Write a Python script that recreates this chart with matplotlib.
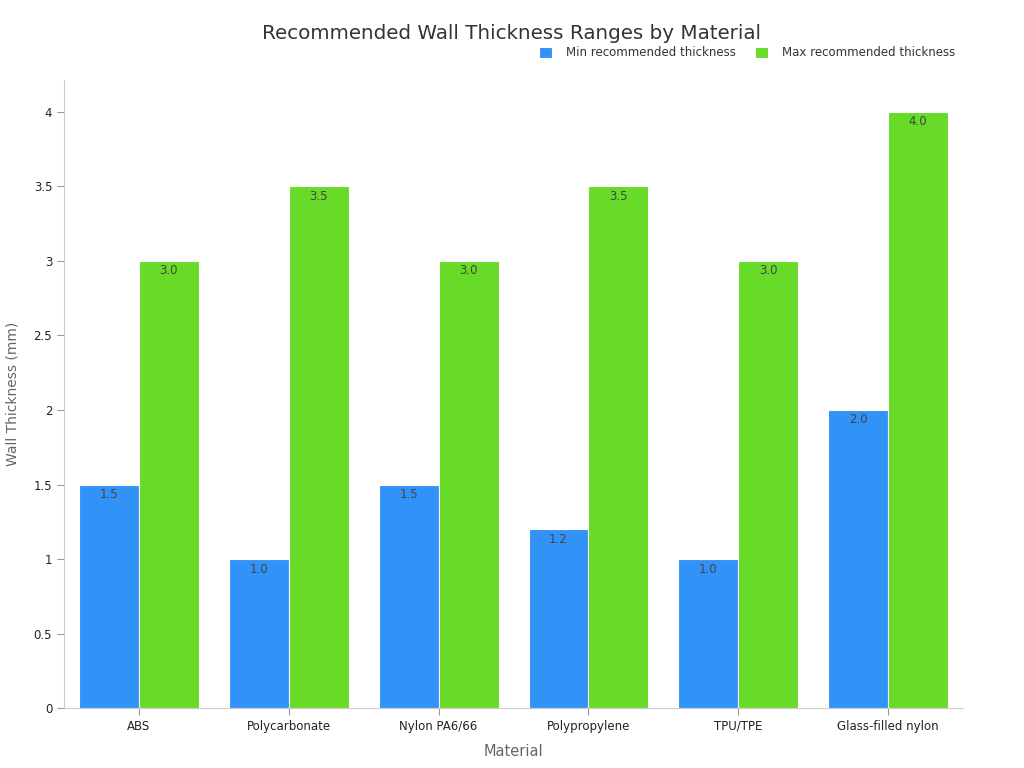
import matplotlib.pyplot as plt
import numpy as np

plt.rcParams['font.family'] = ['DejaVu Sans']

materials = ["ABS", "Polycarbonate", "Nylon PA6/66", "Polypropylene", "TPU/TPE", "Glass-filled nylon"]
min_thick = [1.5, 1.0, 1.5, 1.2, 1.0, 2.0]
max_thick = [3.0, 3.5, 3.0, 3.5, 3.0, 4.0]
yticks = [0, 0.5, 1, 1.5, 2, 2.5, 3, 3.5, 4]
ytick_labels = ["0", "0.5", "1", "1.5", "2", "2.5", "3", "3.5", "4"]

blue = "#3192F8"
green = "#67DB28"

fig = plt.figure(figsize=(10.24, 7.68), dpi=100)
ax = fig.add_axes([0.0625, 0.078, 0.878, 0.818])

x = np.arange(len(materials))
w = 0.4
b1 = ax.bar(x - w / 2, min_thick, w, color=blue, edgecolor="white", linewidth=0.8,
            label="Min recommended thickness")
b2 = ax.bar(x + w / 2, max_thick, w, color=green, edgecolor="white", linewidth=0.8,
            label="Max recommended thickness")

for bars, vals in ((b1, min_thick), (b2, max_thick)):
    for r, v in zip(bars, vals):
        ax.annotate(f"{v:.1f}", (r.get_x() + r.get_width() / 2, v),
                    xytext=(0, -2.5), textcoords="offset points",
                    ha="center", va="top", fontsize=8.5, color="#444444")

ax.set_xlim(-0.5, 5.5)
ax.set_ylim(0, 4.215)
ax.set_xticks(x)
ax.set_xticklabels(materials, fontsize=8.5, color="#222222")
ax.set_yticks(yticks)
ax.set_yticklabels(ytick_labels, fontsize=8.5, color="#222222")
ax.tick_params(color="#999999", length=5)

for s in ("top", "right"):
    ax.spines[s].set_visible(False)
for s in ("left", "bottom"):
    ax.spines[s].set_color("#cccccc")

ax.set_xlabel("Material", fontsize=10.5, color="#666666", labelpad=8)
ax.set_ylabel("Wall Thickness (mm)", fontsize=10, color="#666666", labelpad=10)

fig.text(0.5, 0.957, "Recommended Wall Thickness Ranges by Material",
         ha="center", va="center", fontsize=14.3, color="#333333")
leg = fig.legend(handles=[b1, b2], loc="center right", bbox_to_anchor=(0.943, 0.931),
                 ncol=2, frameon=False, fontsize=8.5, handlelength=1.1, handleheight=1.1,
                 columnspacing=1.6, handletextpad=1.2)
for t in leg.get_texts():
    t.set_color("#333333")

fig.savefig("out.png", dpi=100)
